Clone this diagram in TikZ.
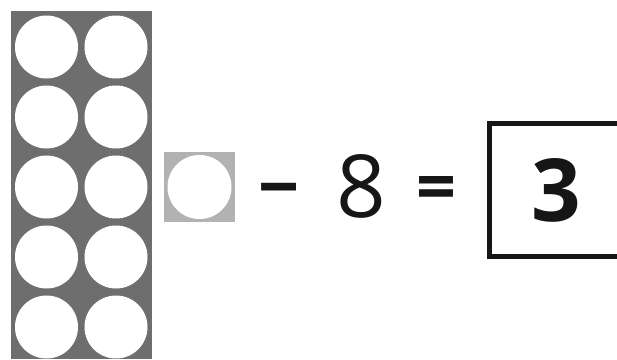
\documentclass[tikz,border=0pt]{standalone}
\usepackage{fontspec}
\setmainfont{Open Sans}
\definecolor{darkgray}{HTML}{6E6E6E}
\definecolor{lightgray}{HTML}{B2B2B2}
\definecolor{ink}{HTML}{161616}
\begin{document}
\begin{tikzpicture}[x=1pt,y=-1pt,
  dot/.style={circle,fill=white,minimum size=63pt,inner sep=0pt},
  sym/.style={text=ink,inner sep=0pt,anchor=center}]
\useasboundingbox (0,0) rectangle (617,359);
\fill[darkgray] (11,11) rectangle (152,359);
\foreach \r in {0,...,4}{
  \node[dot] (l\r) at (46.5,{47+70*\r}) {};
  \node[dot] (r\r) at (116,{47+70*\r}) {};
}
\fill[lightgray] (164,152) rectangle (235,222);
\node[dot,minimum size=64pt] (one) at (199.5,187) {};
\node[sym,font=\fontsize{72}{72}\selectfont\bfseries] (minus) at (279.5,198) {−};
\node[sym,font=\fontsize{87}{87}\selectfont] (eight) at (361.5,186) {8};
\node[sym,font=\fontsize{70}{70}\selectfont\bfseries] (eq) at (436,194) {=};
\draw[ink,line width=5pt] (630,123.5) -| (489.5,256.5) -- (630,256.5);
\node[sym,font=\fontsize{87}{87}\selectfont\bfseries] (three) at (556,190) {3};
\end{tikzpicture}
\end{document}
